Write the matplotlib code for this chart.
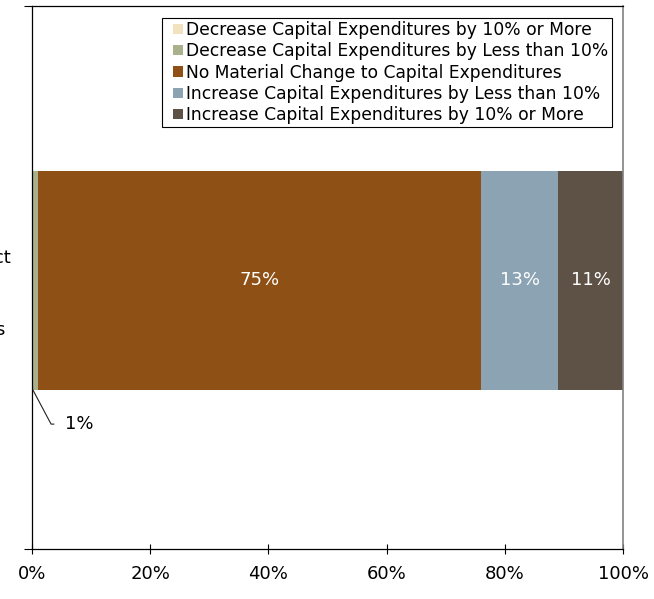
import matplotlib
matplotlib.use("Agg")
import matplotlib.pyplot as plt
import matplotlib.transforms as mtransforms
from matplotlib.patches import Patch, Rectangle
from matplotlib.legend_handler import HandlerPatch

plt.rcParams["font.family"] = ["DejaVu Sans"]

# Survey responses: expected change in capital expenditures
category = "Expected\nImpact of the Tax Act\non Your\nCompany's\nCapital Investments"
series = [
    "Decrease Capital Expenditures by 10% or More",
    "Decrease Capital Expenditures by Less than 10%",
    "No Material Change to Capital Expenditures",
    "Increase Capital Expenditures by Less than 10%",
    "Increase Capital Expenditures by 10% or More",
]
values = [0, 1, 75, 13, 11]
colors = ["#F3E2C0", "#A9B08C", "#8E5014", "#8BA3B3", "#5E5246"]
label_colors = [None, "#000000", "#FFFFFF", "#FFFFFF", "#FFFFFF"]
x_ticks = [0, 20, 40, 60, 80, 100]
x_tick_labels = ["0%", "20%", "40%", "60%", "80%", "100%"]

fig = plt.figure(figsize=(6.54, 5.99), dpi=100)
ax = fig.add_axes([32 / 654, 50 / 599, 591 / 654, 543 / 599])

bar_h = 0.404
left = 0
bars = []
for name, v, c in zip(series, values, colors):
    ax.barh(0, v, left=left, height=bar_h, color=c, edgecolor="none", label=name)
    bars.append((left, v))
    left += v

ax.set_xlim(0, 100)
ax.set_ylim(0.495, -0.505)

# value labels inside the wide segments
for (l, v), lc in zip(bars, label_colors):
    if v >= 5:
        ax.text(l + v / 2, 0, f"{v}%", ha="center", va="center",
                color=lc, fontsize=13)

# narrow segment: label below the bar with a leader line
l1, v1 = bars[1]
ax.annotate(f"{v1}%", xy=(l1 + 0.15 * v1, bar_h / 2), xytext=(5.6, 0.265),
            ha="left", va="center", fontsize=13, color="#000000",
            arrowprops=dict(arrowstyle="-", color="#222222", lw=0.8,
                            connectionstyle="angle,angleA=0,angleB=-62,rad=0",
                            patchA=None, relpos=(0, 0.5),
                            shrinkA=8, shrinkB=0))

ax.set_xticks(x_ticks)
ax.set_xticklabels(x_tick_labels, fontsize=13)
ax.tick_params(axis="x", direction="inout", length=7, width=0.8, pad=8)

# category axis: boundary ticks only, wrapped category name on the left
ax.set_yticks([])
ax.set_yticks([-0.505, 0.495], minor=True)
ax.tick_params(axis="y", which="minor", direction="out", length=6, width=0.8)
cat_trans = mtransforms.offset_copy(
    mtransforms.blended_transform_factory(ax.transAxes, ax.transData),
    fig=fig, x=0, y=-2, units="dots")
ax.text(-0.197, 0, category, transform=cat_trans, fontsize=13,
        ha="center", va="center", multialignment="center", linespacing=1.43)

for s in ["left", "bottom", "top"]:
    ax.spines[s].set_color("#000000")
    ax.spines[s].set_linewidth(0.9)
ax.spines["right"].set_color("#808080")
ax.spines["right"].set_linewidth(1.2)


def square_key(legend, orig_handle, xdescent, ydescent, width, height, fontsize):
    s = 0.59 * fontsize
    return Rectangle((-xdescent + width - s, -ydescent + (height - s) / 2), s, s)


handles = [Patch(facecolor=c, edgecolor="none") for c in colors]
leg = ax.legend(handles, series, loc="upper right",
                bbox_to_anchor=(0.981, 0.978), fontsize=12.3, frameon=True,
                fancybox=False, edgecolor="#000000", framealpha=1,
                handlelength=1.0, handleheight=0.7, handletextpad=0.2,
                labelspacing=0.18, borderpad=0.2, borderaxespad=0,
                handler_map={Patch: HandlerPatch(patch_func=square_key)})
leg.get_frame().set_linewidth(0.8)

fig.savefig("out.png", dpi=100)
